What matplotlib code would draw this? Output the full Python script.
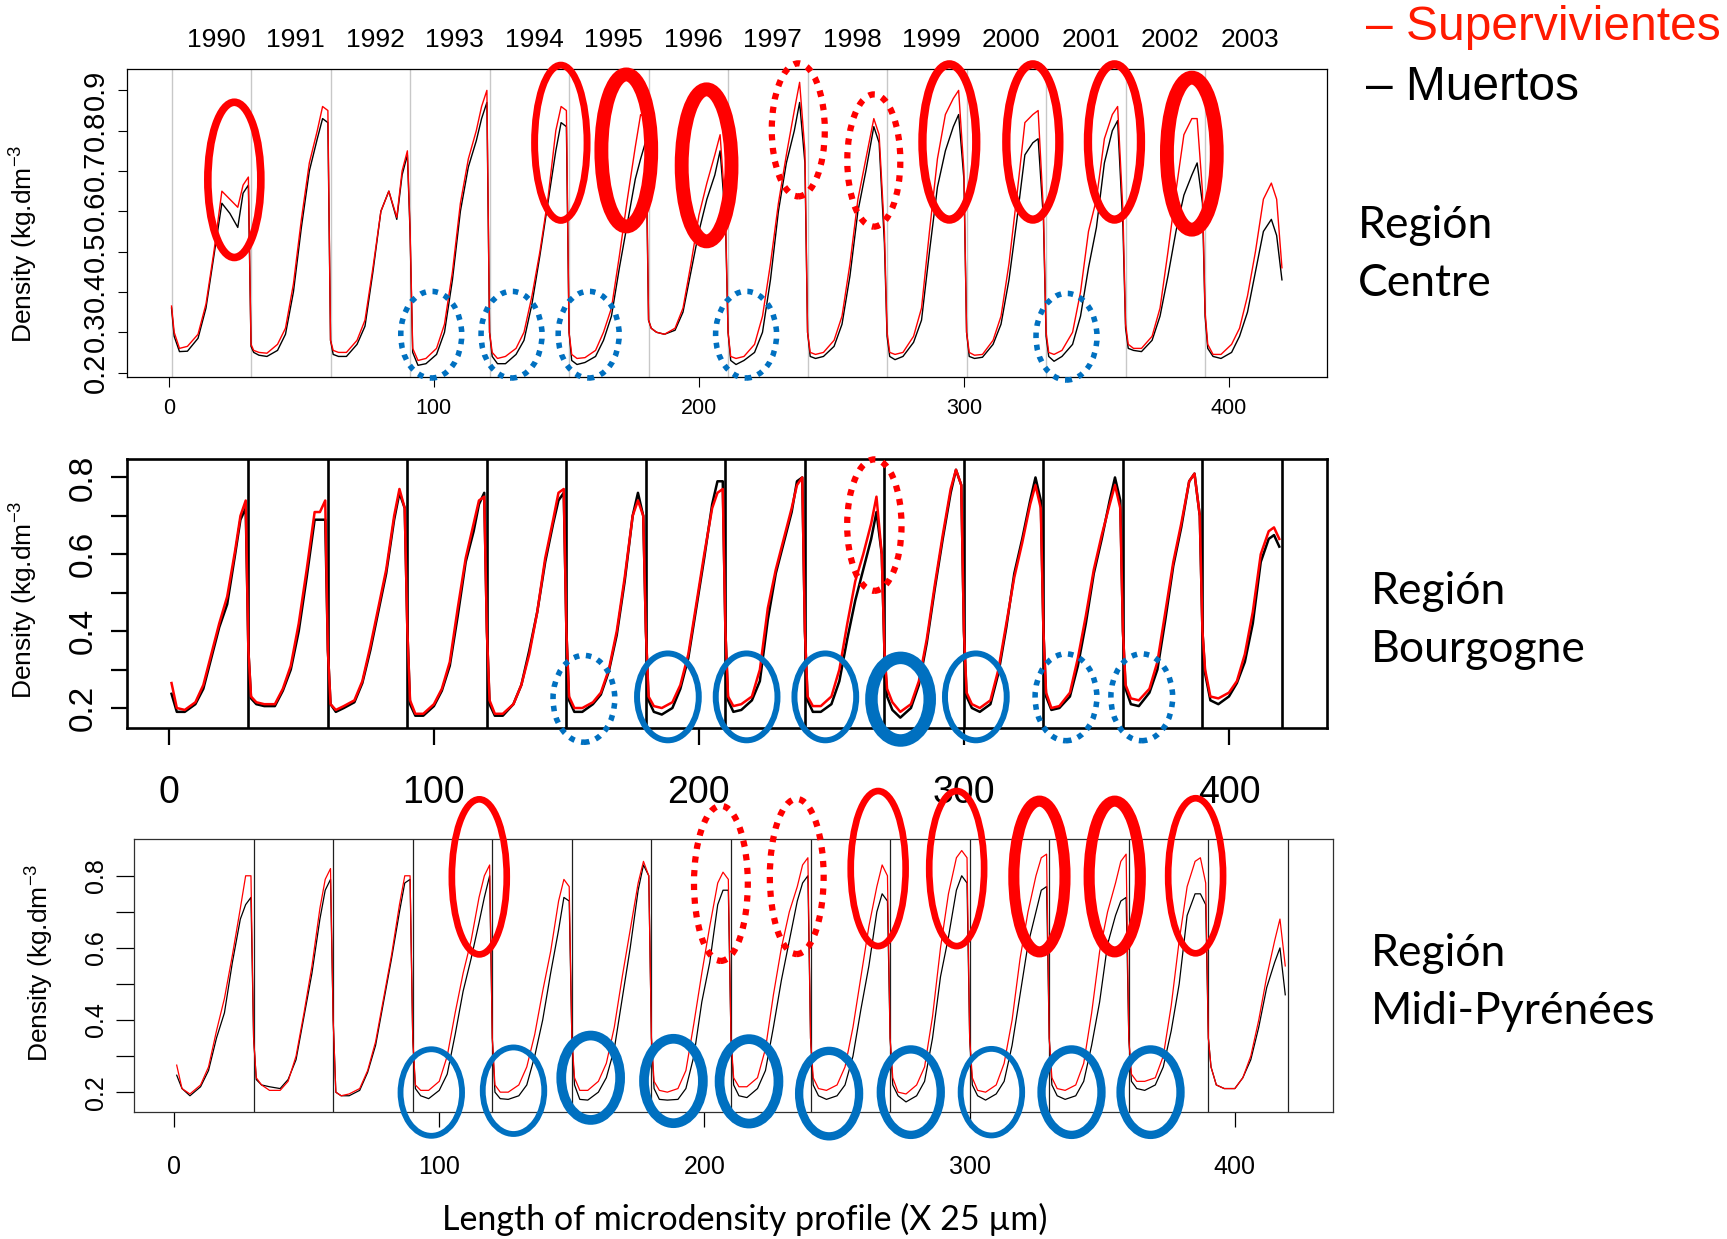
import numpy as np
import matplotlib
matplotlib.use('Agg')
import matplotlib.pyplot as plt
from matplotlib.patches import Ellipse
from matplotlib.transforms import blended_transform_factory

plt.rcParams['font.family'] = ['Liberation Sans', 'DejaVu Sans']
plt.rcParams['mathtext.default'] = 'regular'

# ---------------- data ----------------
YEARS = [str(y) for y in range(1990, 2004)]
RING = 30
OFFSETS = [0, 1, 3, 6, 10, 13, 16, 19, 22, 25, 27, 29]
nan = np.nan

# Région Centre
centre_surv = [
    [0.365, 0.30, 0.26, 0.265, 0.295, 0.37, 0.50, 0.65, 0.63, 0.61, 0.665, 0.685],
    [0.27, 0.255, 0.25, 0.248, 0.27, 0.31, 0.42, 0.58, 0.72, 0.80, 0.86, 0.85],
    [0.28, 0.255, 0.25, 0.25, 0.28, 0.33, 0.46, 0.60, 0.65, 0.585, 0.70, 0.75],
    [0.56, 0.26, 0.23, 0.235, 0.26, 0.32, 0.45, 0.62, 0.73, 0.80, 0.86, 0.90],
    [0.30, 0.25, 0.235, 0.24, 0.26, 0.30, 0.39, 0.50, 0.63, 0.80, 0.86, 0.85],
    [0.30, 0.245, 0.235, 0.237, 0.255, 0.30, 0.36, 0.49, 0.63, 0.76, 0.84, 0.83],
    [0.33, 0.31, 0.30, 0.295, 0.31, 0.36, 0.47, 0.59, 0.67, 0.74, 0.79, 0.60],
    [0.30, 0.24, 0.235, 0.24, 0.27, 0.34, 0.47, 0.62, 0.74, 0.85, 0.92, 0.75],
    [0.30, 0.25, 0.245, 0.25, 0.28, 0.34, 0.47, 0.63, 0.73, 0.83, 0.79, 0.55],
    [0.30, 0.25, 0.245, 0.25, 0.29, 0.36, 0.55, 0.73, 0.84, 0.88, 0.90, 0.70],
    [0.30, 0.25, 0.243, 0.245, 0.28, 0.34, 0.47, 0.64, 0.82, 0.84, 0.85, 0.60],
    [0.30, 0.25, 0.245, 0.255, 0.30, 0.40, 0.55, 0.63, 0.78, 0.84, 0.86, 0.60],
    [0.32, 0.27, 0.26, 0.26, 0.29, 0.36, 0.50, 0.65, 0.79, 0.83, 0.83, 0.65],
    [0.35, 0.27, 0.245, 0.245, 0.27, 0.31, 0.39, 0.50, 0.63, 0.67, 0.63, 0.46],
]
centre_dead = [
    [0.36, 0.29, 0.252, 0.253, 0.285, 0.36, 0.49, 0.62, 0.595, 0.56, 0.645, 0.665],
    [0.265, 0.25, 0.243, 0.24, 0.255, 0.295, 0.40, 0.56, 0.70, 0.78, 0.83, 0.82],
    [0.28, 0.245, 0.24, 0.24, 0.27, 0.315, 0.45, 0.60, 0.65, 0.58, 0.69, 0.74],
    [0.55, 0.25, 0.218, 0.222, 0.245, 0.30, 0.43, 0.60, 0.71, 0.775, 0.83, 0.87],
    [0.30, 0.24, 0.222, 0.222, 0.245, 0.28, 0.37, 0.49, 0.62, 0.75, 0.82, 0.81],
    [0.30, 0.23, 0.22, 0.225, 0.24, 0.28, 0.34, 0.46, 0.57, 0.68, 0.73, 0.775],
    [0.33, 0.31, 0.30, 0.295, 0.305, 0.35, 0.45, 0.55, 0.63, 0.69, 0.75, 0.58],
    [0.30, 0.23, 0.22, 0.23, 0.25, 0.30, 0.43, 0.60, 0.72, 0.80, 0.87, 0.72],
    [0.30, 0.24, 0.235, 0.24, 0.265, 0.32, 0.44, 0.60, 0.70, 0.81, 0.77, 0.52],
    [0.29, 0.24, 0.232, 0.24, 0.275, 0.33, 0.50, 0.66, 0.75, 0.81, 0.84, 0.68],
    [0.30, 0.24, 0.235, 0.238, 0.27, 0.32, 0.43, 0.58, 0.74, 0.77, 0.78, 0.58],
    [0.29, 0.24, 0.228, 0.24, 0.27, 0.34, 0.46, 0.56, 0.72, 0.80, 0.825, 0.56],
    [0.31, 0.26, 0.255, 0.252, 0.28, 0.34, 0.44, 0.55, 0.64, 0.69, 0.72, 0.62],
    [0.34, 0.26, 0.24, 0.235, 0.25, 0.29, 0.35, 0.45, 0.55, 0.58, 0.54, 0.43],
]

# Région Bourgogne
bourg_surv = [
    [nan, 0.265, 0.20, 0.195, 0.215, 0.26, 0.34, 0.42, 0.49, 0.61, 0.70, 0.74],
    [0.35, 0.23, 0.215, 0.21, 0.21, 0.25, 0.31, 0.42, 0.56, 0.71, 0.71, 0.74],
    [0.35, 0.21, 0.195, 0.205, 0.22, 0.27, 0.36, 0.46, 0.56, 0.70, 0.77, 0.72],
    [0.40, 0.22, 0.185, 0.185, 0.21, 0.25, 0.32, 0.46, 0.59, 0.68, 0.74, 0.75],
    [0.40, 0.22, 0.185, 0.185, 0.21, 0.26, 0.34, 0.45, 0.59, 0.69, 0.76, 0.77],
    [0.40, 0.23, 0.20, 0.20, 0.215, 0.24, 0.30, 0.40, 0.54, 0.70, 0.74, 0.70],
    [0.40, 0.23, 0.205, 0.20, 0.215, 0.26, 0.34, 0.47, 0.60, 0.72, 0.76, 0.77],
    [0.40, 0.23, 0.205, 0.21, 0.23, 0.30, 0.46, 0.56, 0.64, 0.72, 0.78, 0.80],
    [0.40, 0.23, 0.205, 0.205, 0.23, 0.30, 0.42, 0.53, 0.60, 0.68, 0.75, 0.60],
    [0.35, 0.25, 0.215, 0.19, 0.21, 0.27, 0.38, 0.52, 0.65, 0.77, 0.82, 0.78],
    [0.40, 0.24, 0.21, 0.20, 0.22, 0.30, 0.42, 0.54, 0.63, 0.73, 0.78, 0.72],
    [0.40, 0.24, 0.20, 0.205, 0.24, 0.33, 0.44, 0.56, 0.65, 0.73, 0.78, 0.72],
    [0.40, 0.26, 0.225, 0.22, 0.25, 0.32, 0.45, 0.58, 0.68, 0.79, 0.81, 0.70],
    [0.40, 0.30, 0.23, 0.225, 0.24, 0.27, 0.34, 0.45, 0.60, 0.66, 0.67, 0.64],
]
bourg_dead = [
    [nan, 0.237, 0.19, 0.19, 0.21, 0.25, 0.33, 0.41, 0.47, 0.60, 0.69, 0.72],
    [0.35, 0.225, 0.21, 0.205, 0.205, 0.245, 0.30, 0.40, 0.54, 0.69, 0.69, 0.69],
    [0.35, 0.21, 0.19, 0.20, 0.215, 0.265, 0.35, 0.45, 0.55, 0.69, 0.76, 0.72],
    [0.40, 0.21, 0.18, 0.18, 0.205, 0.245, 0.31, 0.44, 0.58, 0.66, 0.73, 0.76],
    [0.40, 0.21, 0.18, 0.18, 0.21, 0.26, 0.35, 0.45, 0.58, 0.68, 0.74, 0.76],
    [0.40, 0.22, 0.19, 0.19, 0.21, 0.235, 0.295, 0.39, 0.53, 0.70, 0.76, 0.70],
    [0.40, 0.22, 0.19, 0.183, 0.20, 0.25, 0.33, 0.46, 0.59, 0.73, 0.79, 0.79],
    [0.40, 0.22, 0.19, 0.195, 0.22, 0.27, 0.43, 0.55, 0.63, 0.71, 0.79, 0.80],
    [0.40, 0.22, 0.19, 0.19, 0.21, 0.27, 0.38, 0.48, 0.56, 0.64, 0.71, 0.60],
    [0.35, 0.23, 0.195, 0.175, 0.20, 0.26, 0.37, 0.51, 0.64, 0.76, 0.82, 0.78],
    [0.40, 0.23, 0.20, 0.19, 0.21, 0.29, 0.41, 0.55, 0.64, 0.74, 0.80, 0.74],
    [0.40, 0.23, 0.195, 0.20, 0.23, 0.31, 0.42, 0.55, 0.64, 0.74, 0.80, 0.74],
    [0.40, 0.25, 0.21, 0.205, 0.24, 0.30, 0.43, 0.57, 0.67, 0.79, 0.81, 0.70],
    [0.40, 0.29, 0.22, 0.21, 0.23, 0.265, 0.32, 0.42, 0.58, 0.64, 0.65, 0.62],
]

# Région Midi-Pyrénées
midi_surv = [
    [nan, 0.275, 0.21, 0.195, 0.22, 0.27, 0.37, 0.46, 0.58, 0.71, 0.80, 0.80],
    [0.35, 0.24, 0.22, 0.205, 0.205, 0.23, 0.30, 0.42, 0.55, 0.71, 0.79, 0.82],
    [0.40, 0.20, 0.19, 0.195, 0.21, 0.26, 0.34, 0.46, 0.58, 0.72, 0.80, 0.80],
    [0.35, 0.22, 0.205, 0.205, 0.23, 0.30, 0.42, 0.53, 0.62, 0.74, 0.80, 0.83],
    [0.35, 0.22, 0.20, 0.20, 0.22, 0.27, 0.36, 0.48, 0.59, 0.73, 0.79, 0.77],
    [0.35, 0.24, 0.205, 0.205, 0.23, 0.28, 0.38, 0.52, 0.65, 0.78, 0.84, 0.80],
    [0.35, 0.23, 0.205, 0.20, 0.21, 0.26, 0.39, 0.53, 0.66, 0.78, 0.81, 0.79],
    [0.35, 0.24, 0.215, 0.215, 0.24, 0.32, 0.47, 0.60, 0.70, 0.77, 0.83, 0.85],
    [0.35, 0.24, 0.21, 0.205, 0.22, 0.27, 0.38, 0.52, 0.66, 0.77, 0.83, 0.80],
    [0.35, 0.24, 0.20, 0.195, 0.22, 0.27, 0.41, 0.60, 0.75, 0.85, 0.87, 0.85],
    [0.35, 0.24, 0.205, 0.20, 0.22, 0.28, 0.40, 0.57, 0.70, 0.80, 0.85, 0.86],
    [0.35, 0.24, 0.21, 0.205, 0.22, 0.28, 0.42, 0.59, 0.70, 0.78, 0.84, 0.86],
    [0.35, 0.25, 0.23, 0.23, 0.24, 0.30, 0.44, 0.62, 0.77, 0.84, 0.85, 0.78],
    [0.35, 0.27, 0.22, 0.21, 0.21, 0.24, 0.30, 0.40, 0.52, 0.62, 0.68, 0.55],
]
midi_dead = [
    [nan, 0.247, 0.21, 0.19, 0.215, 0.26, 0.35, 0.42, 0.56, 0.68, 0.72, 0.74],
    [0.35, 0.235, 0.22, 0.215, 0.21, 0.235, 0.29, 0.41, 0.53, 0.68, 0.76, 0.79],
    [0.40, 0.20, 0.19, 0.19, 0.205, 0.255, 0.33, 0.45, 0.57, 0.70, 0.78, 0.79],
    [0.35, 0.21, 0.19, 0.182, 0.205, 0.25, 0.36, 0.48, 0.57, 0.67, 0.74, 0.80],
    [0.35, 0.20, 0.182, 0.18, 0.19, 0.22, 0.30, 0.40, 0.53, 0.65, 0.74, 0.73],
    [0.35, 0.22, 0.18, 0.178, 0.20, 0.24, 0.32, 0.46, 0.60, 0.76, 0.83, 0.80],
    [0.35, 0.21, 0.18, 0.178, 0.18, 0.21, 0.30, 0.45, 0.56, 0.72, 0.76, 0.76],
    [0.35, 0.22, 0.19, 0.185, 0.21, 0.26, 0.38, 0.51, 0.62, 0.73, 0.78, 0.80],
    [0.35, 0.22, 0.19, 0.18, 0.19, 0.22, 0.30, 0.43, 0.55, 0.70, 0.75, 0.73],
    [0.35, 0.22, 0.19, 0.173, 0.19, 0.23, 0.35, 0.52, 0.63, 0.76, 0.80, 0.78],
    [0.35, 0.22, 0.19, 0.178, 0.195, 0.23, 0.33, 0.47, 0.61, 0.70, 0.76, 0.77],
    [0.35, 0.22, 0.19, 0.18, 0.19, 0.23, 0.33, 0.45, 0.61, 0.69, 0.73, 0.74],
    [0.35, 0.23, 0.21, 0.205, 0.22, 0.27, 0.37, 0.50, 0.69, 0.75, 0.75, 0.72],
    [0.35, 0.27, 0.22, 0.21, 0.21, 0.24, 0.29, 0.38, 0.49, 0.56, 0.60, 0.47],
]

# annotation ellipses: (x centre, y centre, width, height, style, linewidth)
DOT = (0, (1, 1.2))
centre_red_marks = [
    (24.7, 0.678, 20.0, 0.385, 'solid', 5.5),
    (147.9, 0.770, 19.8, 0.385, 'solid', 5.0),
    (172.6, 0.751, 18.8, 0.377, 'solid', 10),
    (202.9, 0.714, 18.8, 0.377, 'solid', 10),
    (237.5, 0.802, 20.0, 0.330, DOT, 4.5),
    (266.0, 0.726, 20.0, 0.328, DOT, 4.5),
    (294.5, 0.772, 20.3, 0.385, 'solid', 6.0),
    (326.0, 0.772, 20.0, 0.385, 'solid', 6.0),
    (356.8, 0.772, 20.0, 0.385, 'solid', 6.0),
    (386.0, 0.743, 18.8, 0.377, 'solid', 10),
]
centre_blue_marks = [
    (99.0, 0.294, 23.0, 0.215, DOT, 4),
    (129.3, 0.294, 23.0, 0.215, DOT, 4),
    (158.4, 0.294, 23.0, 0.215, DOT, 4),
    (217.8, 0.294, 23.0, 0.215, DOT, 4),
    (338.7, 0.289, 23.0, 0.215, DOT, 4),
]
bourg_red_marks = [
    (266.2, 0.676, 20.5, 0.342, DOT, 4.5),
]
bourg_blue_marks = [
    (156.6, 0.224, 23.3, 0.226, DOT, 4),
    (188.3, 0.229, 23.3, 0.226, 'solid', 4.3),
    (218.0, 0.229, 23.3, 0.226, 'solid', 4.3),
    (247.7, 0.229, 23.3, 0.226, 'solid', 4.3),
    (276.1, 0.223, 22.0, 0.215, 'solid', 9),
    (304.5, 0.229, 23.3, 0.226, 'solid', 4.3),
    (338.5, 0.228, 23.3, 0.226, DOT, 4),
    (367.1, 0.228, 23.3, 0.226, DOT, 4),
]
midi_red_marks = [
    (115.1, 0.797, 20.7, 0.430, 'solid', 4.8),
    (206.2, 0.779, 20.3, 0.430, DOT, 4.5),
    (234.8, 0.798, 20.3, 0.430, DOT, 4.5),
    (265.5, 0.820, 20.7, 0.430, 'solid', 4.8),
    (295.1, 0.820, 20.7, 0.430, 'solid', 4.8),
    (326.3, 0.798, 19.3, 0.418, 'solid', 8),
    (354.7, 0.798, 19.3, 0.418, 'solid', 8),
    (385.2, 0.800, 20.7, 0.430, 'solid', 4.8),
]
midi_blue_marks = [
    (97.0, 0.199, 23.2, 0.240, 'solid', 4.2),
    (128.0, 0.204, 23.2, 0.240, 'solid', 4.2),
    (157.1, 0.240, 22.2, 0.234, 'solid', 7),
    (188.3, 0.231, 22.2, 0.234, 'solid', 7),
    (216.8, 0.230, 22.2, 0.234, 'solid', 7),
    (247.0, 0.196, 22.6, 0.237, 'solid', 6),
    (277.8, 0.200, 22.6, 0.237, 'solid', 6),
    (308.2, 0.200, 23.2, 0.240, 'solid', 4.2),
    (338.4, 0.200, 22.6, 0.237, 'solid', 6),
    (368.2, 0.200, 22.6, 0.237, 'solid', 6),
]

RED = '#FF0000'
BLUE = '#0070C0'

# ---------------- figure ----------------
W, H = 1727, 1239
fig = plt.figure(figsize=(W / 100, H / 100), dpi=100)


def box(l, t, r, b):
    return [l / W, 1 - b / H, (r - l) / W, (b - t) / H]


def profile(rings, start):
    xs, ys = [], []
    for k, vals in enumerate(rings):
        for o, v in zip(OFFSETS, vals):
            xs.append(start + RING * k + o)
            ys.append(v)
    return np.array(xs, float), np.array(ys, float)


def add_marks(ax, items, color):
    for cx, cy, w, h, ls, lw in items:
        ax.add_patch(Ellipse((cx, cy), w, h, fill=False, edgecolor=color,
                             lw=lw, linestyle=ls, clip_on=False, zorder=6))


XLIM = (-15.8, 437)

# ---- Panel 1: Centre ----
ax1 = fig.add_axes(box(127, 69, 1327, 377))
for k in range(14):
    ax1.axvline(1 + RING * k, color='#C8C8C8', lw=1.0, zorder=1)
x, y = profile(centre_dead, 1)
ax1.plot(x, y, color='black', lw=1.0, zorder=3)
x, y = profile(centre_surv, 1)
ax1.plot(x, y, color=RED, lw=1.0, zorder=4)
ax1.set_xlim(*XLIM)
ax1.set_ylim(0.189, 0.953)
ax1.set_yticks(np.round(np.arange(0.2, 0.91, 0.1), 1))
ax1.set_yticklabels([f'{v:.1f}' for v in np.arange(0.2, 0.91, 0.1)])
ax1.set_xticks([0, 100, 200, 300, 400])
ax1.tick_params(axis='y', labelrotation=90, labelsize=21, length=6.5, pad=6)
ax1.tick_params(axis='x', labelsize=15.5, length=7, pad=8)
for t in ax1.get_yticklabels():
    t.set_va('center')
for s in ax1.spines.values():
    s.set_linewidth(0.9)
tr = blended_transform_factory(ax1.transData, fig.transFigure)
for k, yr in enumerate(YEARS):
    ax1.text(17.8 + RING * k, 1 - 40 / H, yr, transform=tr, ha='center',
             va='center', fontsize=19)
add_marks(ax1, centre_red_marks, RED)
add_marks(ax1, centre_blue_marks, BLUE)

# ---- Panel 2: Bourgogne ----
ax2 = fig.add_axes(box(127, 459, 1327, 728))
for k in range(1, 15):
    ax2.axvline(RING * k, color='black', lw=1.9, zorder=1)
x, y = profile(bourg_dead, 0)
ax2.plot(x, y, color='black', lw=1.8, zorder=3)
x, y = profile(bourg_surv, 0)
ax2.plot(x, y, color=RED, lw=1.8, zorder=4)
ax2.set_xlim(*XLIM)
ax2.set_ylim(0.148, 0.848)
ticks2 = np.round(np.arange(0.2, 0.81, 0.1), 1)
ax2.set_yticks(ticks2)
ax2.set_yticklabels([f'{v:.1f}' if i % 2 == 0 else '' for i, v in enumerate(ticks2)])
ax2.set_xticks([0, 100, 200, 300, 400])
ax2.tick_params(axis='y', labelrotation=90, labelsize=24, length=11.5, width=1.6, pad=9)
ax2.tick_params(axis='x', labelsize=27, length=12, width=1.6, pad=22)
for t in ax2.get_yticklabels():
    t.set_va('center')
for s in ax2.spines.values():
    s.set_linewidth(1.9)
add_marks(ax2, bourg_red_marks, RED)
add_marks(ax2, bourg_blue_marks, BLUE)

# ---- Panel 3: Midi-Pyrénées ----
ax3 = fig.add_axes(box(134, 839, 1333, 1112))
for k in range(1, 15):
    ax3.axvline(RING * k, color='#202020', lw=0.9, zorder=1)
x, y = profile(midi_dead, 0)
ax3.plot(x, y, color='black', lw=0.9, zorder=3)
x, y = profile(midi_surv, 0)
ax3.plot(x, y, color=RED, lw=0.9, zorder=4)
ax3.set_xlim(-15.1, 437)
ax3.set_ylim(0.145, 0.902)
ticks3 = np.round(np.arange(0.2, 0.81, 0.1), 1)
ax3.set_yticks(ticks3)
ax3.set_yticklabels([f'{v:.1f}' if i % 2 == 0 else '' for i, v in enumerate(ticks3)])
ax3.set_xticks([0, 100, 200, 300, 400])
ax3.tick_params(axis='y', labelrotation=90, labelsize=18, length=13, width=0.9, pad=6)
ax3.tick_params(axis='x', labelsize=18, length=11, width=0.9, pad=20)
for t in ax3.get_yticklabels():
    t.set_va('center')
for s in ax3.spines.values():
    s.set_linewidth(0.9)
    s.set_color('#303030')
add_marks(ax3, midi_red_marks, RED)
add_marks(ax3, midi_blue_marks, BLUE)

# ---- axis titles ----
ylab = 'Density (kg.dm$^{-3}$'
fig.text(24 / W, 1 - 244 / H, ylab, rotation=90, ha='center', va='center', fontsize=19)
fig.text(24 / W, 1 - 600 / H, ylab, rotation=90, ha='center', va='center', fontsize=19)
fig.text(40 / W, 1 - 963 / H, ylab, rotation=90, ha='center', va='center', fontsize=19)

CAL = ['Lato', 'DejaVu Sans']
fig.text(745 / W, 1 - 1219 / H, 'Length of microdensity profile (X 25 µm)',
         ha='center', va='center', fontsize=24.5, family=CAL)

# ---- legend-like labels ----
fig.text(1366 / W, 1 - 28 / H, '– Supervivientes', color='#FF1A00',
         ha='left', va='center', fontsize=34.5)
fig.text(1366 / W, 1 - 88 / H, '– Muertos', color='black',
         ha='left', va='center', fontsize=34.5)

# ---- region names ----
for xpx, y1, y2, l1, l2 in [(1358, 226, 284, 'Región', 'Centre'),
                            (1371, 591, 650, 'Región', 'Bourgogne'),
                            (1371, 953, 1011, 'Región', 'Midi-Pyrénées')]:
    fig.text(xpx / W, 1 - y1 / H, l1, ha='left', va='center', fontsize=32, family=CAL)
    fig.text(xpx / W, 1 - y2 / H, l2, ha='left', va='center', fontsize=32, family=CAL)

fig.savefig('out.png', dpi=100)
